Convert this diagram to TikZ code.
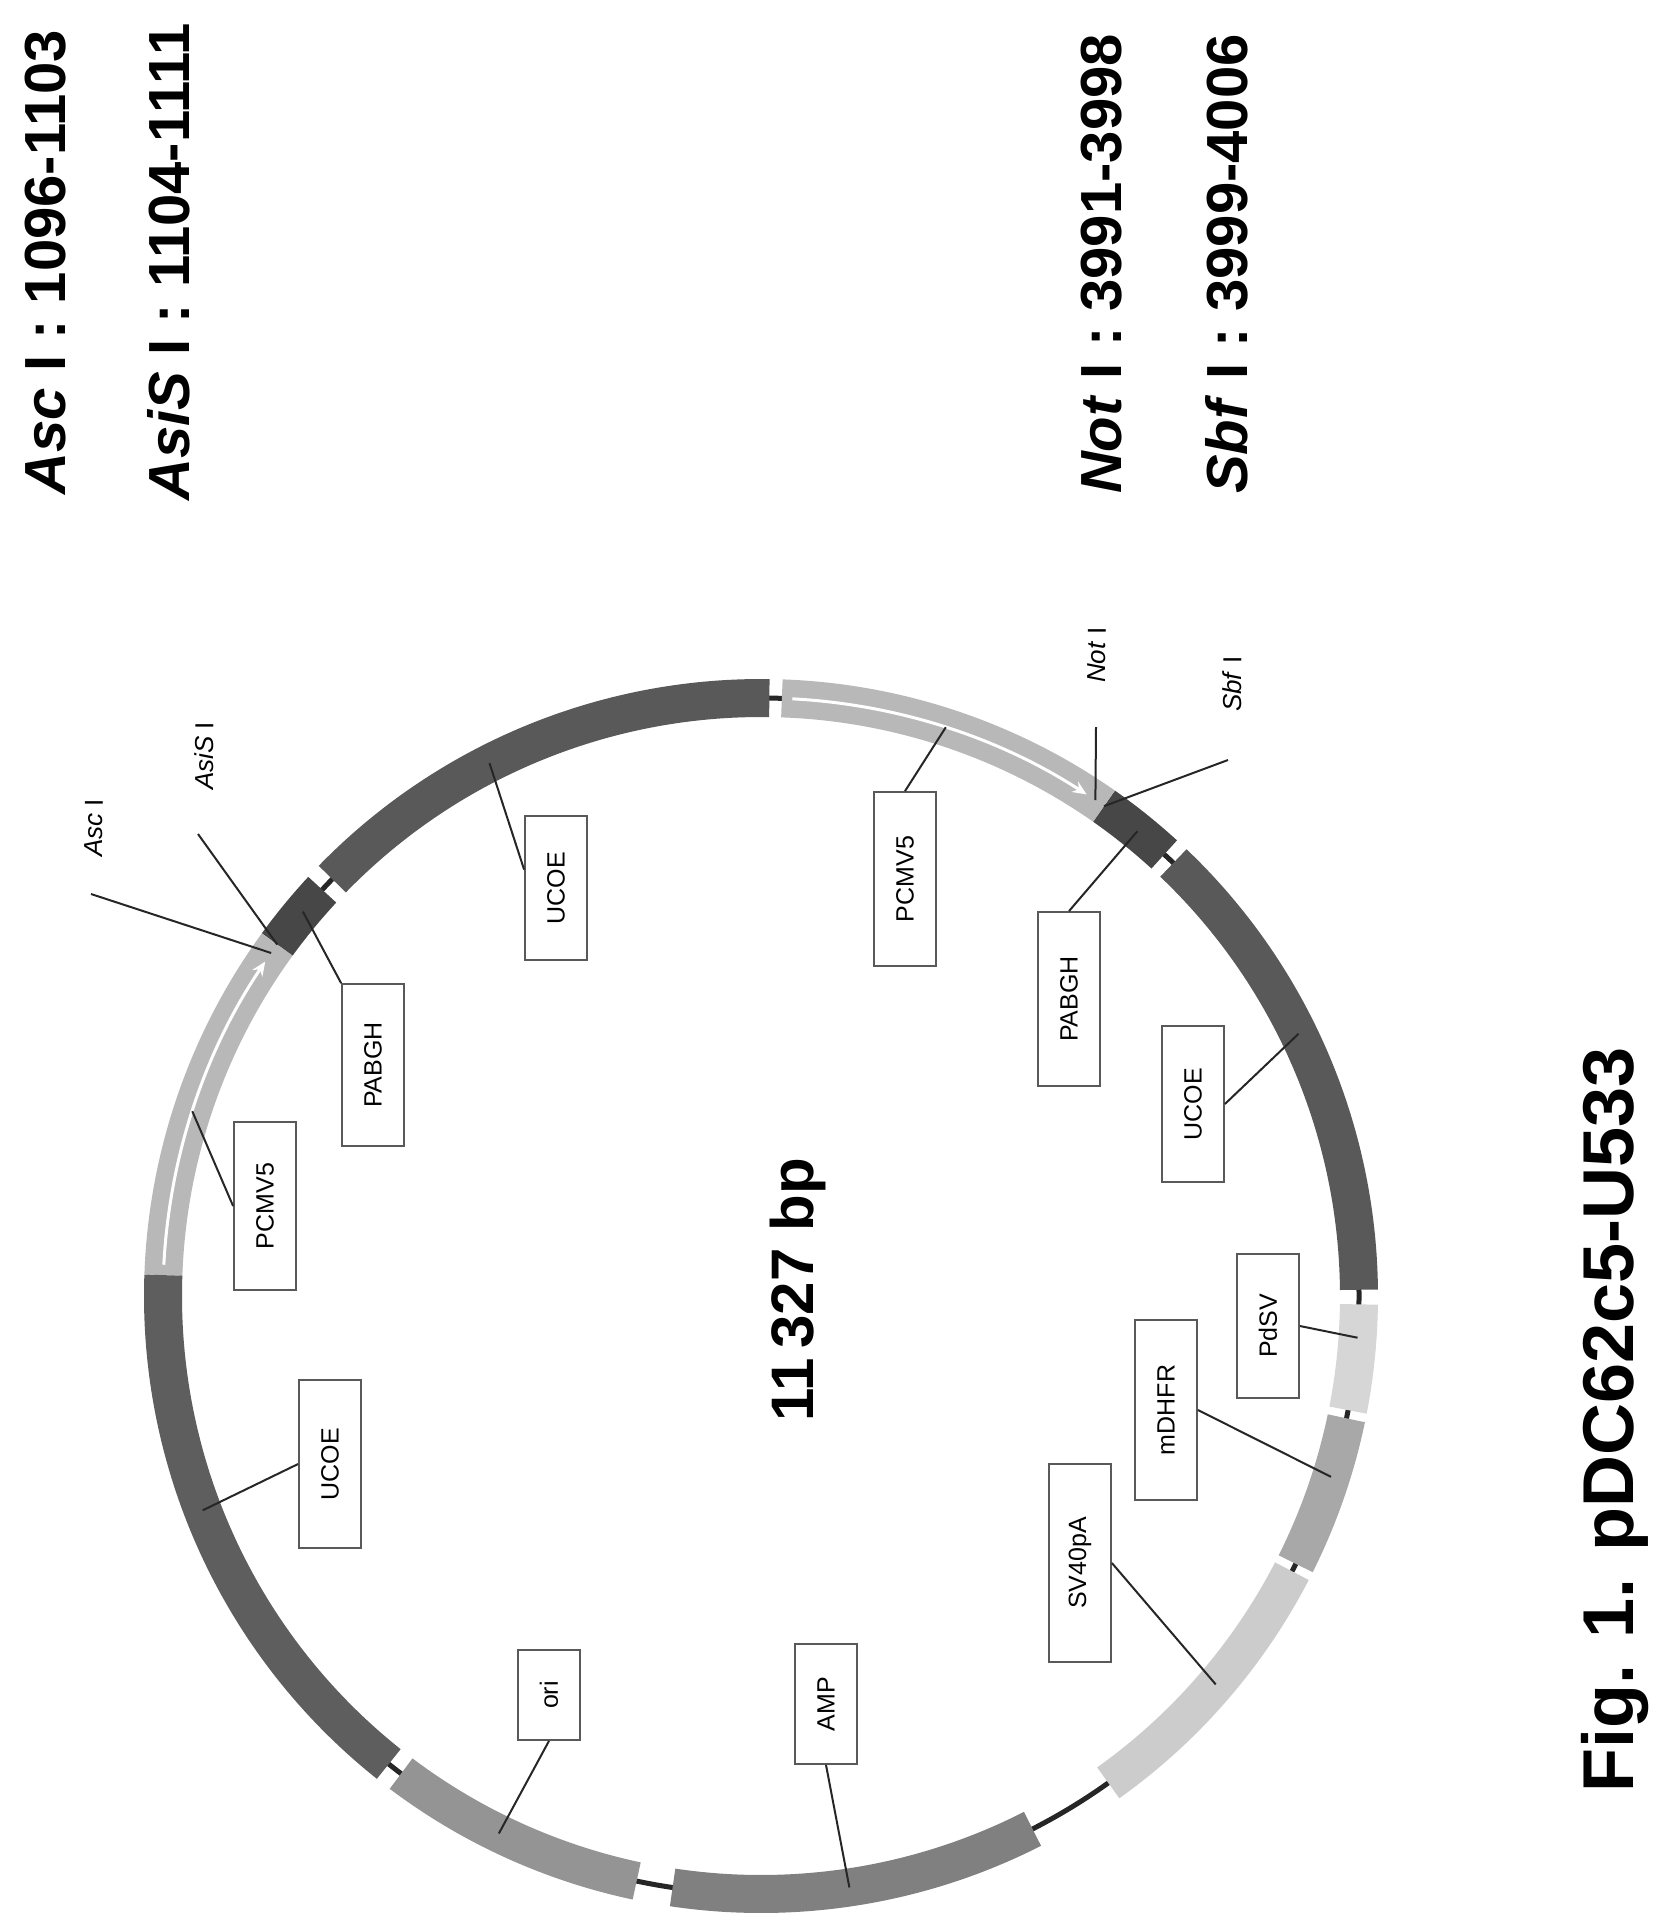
\documentclass[tikz,border=0pt]{standalone}
\usepackage{fontspec}
\setmainfont{Liberation Sans}
\usetikzlibrary{arrows.meta}
\begin{document}
\begin{tikzpicture}[x=1pt,y=1pt,
  seg/.style={line width=38pt},
  lbox/.style={draw=black!65,line width=1.8pt,rotate=90,minimum height=62pt,inner sep=2pt,font=\fontsize{25}{25}\selectfont,fill=white},
  lead/.style={draw=black!85,line width=2pt},
  enz/.style={rotate=90,font=\fontsize{26}{26}\selectfont\itshape},
  big/.style={rotate=90,font=\fontsize{58}{58}\selectfont\bfseries}]
\useasboundingbox (0,0) rectangle (1673,-1924);
\coordinate (C) at (761,-1296);
% backbone
\draw[line width=5pt,black!85] (C) circle[radius=598];
% segments
\foreach \a/\b/\c in {89.2/135.8/65, 137.2/144/72, 144/178/28, 178/231.5/63, 233/258/42,
  261.5/297/50, 305.5/332.6/20, 333.4/348.2/34, 349/359.2/16, 0.6/46.4/65, 47.6/55/72, 55/88/28}{
  \draw[seg,black!\c] ([shift={(C)}]\a:598) arc[start angle=\a,end angle=\b,radius=598];
}
% white arrows in PCMV5
\draw[white,line width=3pt,-{Stealth[length=14pt,width=12pt]}] ([shift={(C)}]87:598) arc[start angle=87,end angle=57,radius=598];
\draw[white,line width=3pt,-{Stealth[length=14pt,width=12pt]}] ([shift={(C)}]177:598) arc[start angle=177,end angle=146,radius=598];
% ring contact points
\foreach \n/\a in {r1/117, r2/72, r3/51, r4/26, r5/-4, r6/-17.6, r7/-40.5, r8/-81.5, r9/-116, r10/-159, r11/162, r12/140, rasc/145, rasis/144, rnot/56, rsbf/55}{
  \coordinate (\n) at ([shift={(C)}]\a:598);
}
% label boxes
\node[lbox,minimum width=144pt] (b1) at (556,-888) {UCOE};
\node[lbox,minimum width=174pt] (b2) at (905,-879) {PCMV5};
\node[lbox,minimum width=174pt] (b3) at (1069,-999) {PABGH};
\node[lbox,minimum width=156pt] (b4) at (1193,-1104) {UCOE};
\node[lbox,minimum width=144pt] (b5) at (1268,-1326) {PdSV};
\node[lbox,minimum width=180pt] (b6) at (1166,-1410) {mDHFR};
\node[lbox,minimum width=198pt] (b7) at (1080,-1563) {SV40pA};
\node[lbox,minimum width=120pt] (b8) at (826,-1704) {AMP};
\node[lbox,minimum width=90pt] (b9) at (549,-1695) {ori};
\node[lbox,minimum width=168pt] (b10) at (330,-1464) {UCOE};
\node[lbox,minimum width=168pt] (b11) at (265,-1206) {PCMV5};
\node[lbox,minimum width=162pt] (b12) at (373,-1065) {PABGH};
\draw[lead] (b1.60) -- (r1);
\draw[lead] (b2.east) -- (r2);
\draw[lead] (b3.east) -- (r3);
\draw[lead] (b4.south) -- (r4);
\draw[lead] (b5.south) -- (r5);
\draw[lead] (b6.south) -- (r6);
\draw[lead] (b7.south) -- (r7);
\draw[lead] (b8.west) -- (r8);
\draw[lead] (b9.west) -- (r9);
\draw[lead] (b10.north) -- (r10);
\draw[lead] (b11.north) -- (r11);
\draw[lead] (b12.north east) -- (r12);
% enzyme sites
\node[enz] (lasc) at (94,-828) {Asc\/ \upshape I};
\node[enz] (lasis) at (204,-756) {AsiS\/ \upshape I};
\node[enz] (lnot) at (1097,-655) {Not\/ \upshape I};
\node[enz] (lsbf) at (1232,-684) {Sbf\/ \upshape I};
\coordinate (easc) at (91,-894);
\coordinate (easis) at (198,-834);
\coordinate (enot) at (1096,-727);
\coordinate (esbf) at (1228,-760);
\draw[lead] (easc) -- (rasc);
\draw[lead] (easis) -- (rasis);
\draw[lead] (enot) -- (rnot);
\draw[lead] (esbf) -- (rsbf);
% big texts
\node[big] (tasc) at (46,-262) {\itshape Asc\/ \upshape I : 1096-1103};
\node[big] (tasis) at (169,-262) {\itshape AsiS\/ \upshape I : 1104-1111};
\node[big] (tnot) at (1102,-264) {\itshape Not\/ \upshape I : 3991-3998};
\node[big] (tsbf) at (1227,-264) {\itshape Sbf\/ \upshape I : 3999-4006};
\node[rotate=90,font=\fontsize{60}{60}\selectfont\bfseries] (bp) at (798,-1290) {11\,327 bp};
\node[rotate=90,font=\fontsize{72}{72}\selectfont\bfseries] (title) at (1615,-1420) {Fig. 1. pDC62c5-U533};
\end{tikzpicture}
\end{document}
